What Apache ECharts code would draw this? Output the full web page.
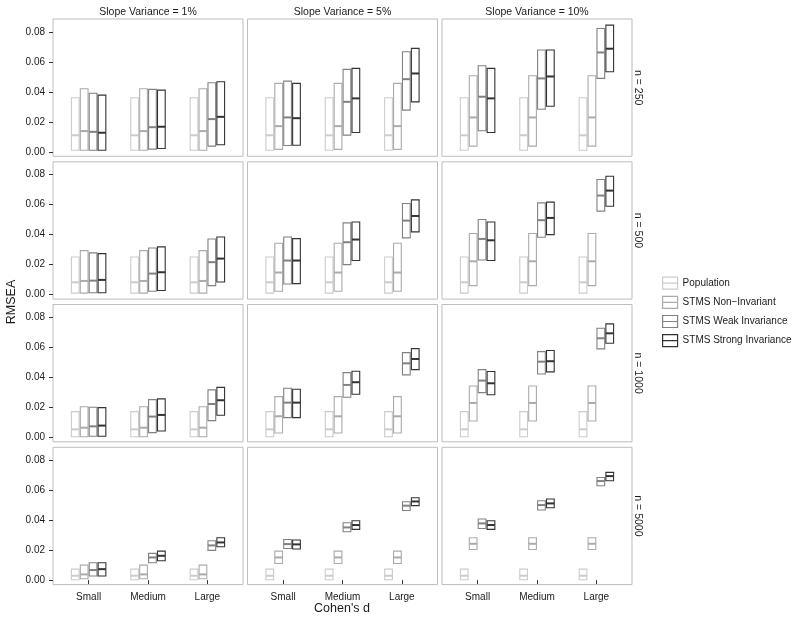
<!DOCTYPE html>
<html>
<head>
<meta charset="utf-8">
<script src="https://cdn.jsdelivr.net/npm/echarts@6/dist/echarts.min.js"></script>
<style>html,body{margin:0;padding:0;background:#fff}#chart{width:800px;height:622px}</style>
</head>
<body>
<div id="chart"></div>
<script>
// ---------- data ----------
const categories = ['Small', 'Medium', 'Large'];
const groups = ['Population', 'STMS Non\u2212Invariant', 'STMS Weak Invariance', 'STMS Strong Invariance'];
const slopeLabels = ['Slope Variance = 1%', 'Slope Variance = 5%', 'Slope Variance = 10%'];
const sizeLabels = ['n = 250', 'n = 500', 'n = 1000', 'n = 5000'];
const yTicks = [0, 0.02, 0.04, 0.06, 0.08];

// each panel: [group][category] = [low, median, high]
const n250_sv1 = [
  [[0.001, 0.011, 0.036], [0.001, 0.011, 0.036], [0.001, 0.011, 0.036]],
  [[0.001, 0.0138, 0.042], [0.001, 0.0138, 0.042], [0.001, 0.0138, 0.042]],
  [[0.001, 0.0133, 0.039], [0.0018, 0.0164, 0.0416], [0.0038, 0.0218, 0.046]],
  [[0.001, 0.0127, 0.0378], [0.0022, 0.0167, 0.0411], [0.0047, 0.0233, 0.0467]]
];
const n250_sv5 = [
  [[0.001, 0.011, 0.036], [0.001, 0.011, 0.036], [0.001, 0.011, 0.036]],
  [[0.0016, 0.0171, 0.0456], [0.0016, 0.0171, 0.0456], [0.0016, 0.0171, 0.0456]],
  [[0.0042, 0.0229, 0.0471], [0.0111, 0.0333, 0.0549], [0.0278, 0.0484, 0.0667]],
  [[0.0044, 0.0224, 0.0456], [0.0129, 0.0356, 0.0556], [0.0333, 0.0522, 0.0689]]
];
const n250_sv10 = [
  [[0.001, 0.011, 0.036], [0.001, 0.011, 0.036], [0.001, 0.011, 0.036]],
  [[0.0038, 0.0229, 0.0507], [0.0038, 0.0229, 0.0507], [0.0038, 0.0229, 0.0507]],
  [[0.014, 0.0367, 0.0573], [0.0284, 0.0489, 0.0678], [0.0489, 0.0662, 0.0822]],
  [[0.0129, 0.0356, 0.0556], [0.0304, 0.0502, 0.0678], [0.0533, 0.0687, 0.0844]]
];
const n500_sv1 = [
  [[0.001, 0.0082, 0.0251], [0.001, 0.0082, 0.0251], [0.001, 0.0082, 0.0251]],
  [[0.001, 0.0091, 0.0293], [0.001, 0.0091, 0.0293], [0.001, 0.0091, 0.0293]],
  [[0.0012, 0.0093, 0.0278], [0.0022, 0.014, 0.0311], [0.006, 0.0216, 0.0371]],
  [[0.0012, 0.0098, 0.0273], [0.0027, 0.0149, 0.0318], [0.0084, 0.024, 0.0384]]
];
const n500_sv5 = [
  [[0.001, 0.0082, 0.0251], [0.001, 0.0082, 0.0251], [0.001, 0.0082, 0.0251]],
  [[0.0022, 0.0147, 0.0342], [0.0022, 0.0147, 0.0342], [0.0022, 0.0147, 0.0342]],
  [[0.0071, 0.0227, 0.0384], [0.02, 0.0349, 0.0478], [0.0378, 0.0493, 0.0607]],
  [[0.0073, 0.0227, 0.0373], [0.0227, 0.0367, 0.0484], [0.0418, 0.0524, 0.0631]]
];
const n500_sv10 = [
  [[0.001, 0.0082, 0.0251], [0.001, 0.0082, 0.0251], [0.001, 0.0082, 0.0251]],
  [[0.006, 0.0222, 0.0407], [0.006, 0.0222, 0.0407], [0.006, 0.0222, 0.0407]],
  [[0.0231, 0.0371, 0.05], [0.0382, 0.0496, 0.0611], [0.0556, 0.066, 0.0767]],
  [[0.0227, 0.0362, 0.0484], [0.04, 0.0511, 0.0616], [0.0589, 0.0693, 0.0789]]
];
const n1000_sv1 = [
  [[0.0004, 0.0053, 0.0171], [0.0004, 0.0053, 0.0171], [0.0004, 0.0053, 0.0171]],
  [[0.0004, 0.0064, 0.0204], [0.0004, 0.0064, 0.0204], [0.0004, 0.0064, 0.0204]],
  [[0.0007, 0.0073, 0.02], [0.0031, 0.0138, 0.0251], [0.0111, 0.0222, 0.0316]],
  [[0.0007, 0.0078, 0.0198], [0.0042, 0.0149, 0.0256], [0.0147, 0.0247, 0.0333]]
];
const n1000_sv5 = [
  [[0.0004, 0.0053, 0.0171], [0.0004, 0.0053, 0.0171], [0.0004, 0.0053, 0.0171]],
  [[0.0029, 0.014, 0.0271], [0.0029, 0.014, 0.0271], [0.0029, 0.014, 0.0271]],
  [[0.0131, 0.0231, 0.0327], [0.0267, 0.0349, 0.0431], [0.0416, 0.0493, 0.0564]],
  [[0.0131, 0.0231, 0.032], [0.0287, 0.0367, 0.044], [0.0451, 0.0522, 0.0591]]
];
const n1000_sv10 = [
  [[0.0004, 0.0053, 0.0171], [0.0004, 0.0053, 0.0171], [0.0004, 0.0053, 0.0171]],
  [[0.0109, 0.0229, 0.0342], [0.0109, 0.0229, 0.0342], [0.0109, 0.0229, 0.0342]],
  [[0.0298, 0.0378, 0.0451], [0.0422, 0.0504, 0.0571], [0.0589, 0.066, 0.0727]],
  [[0.0284, 0.036, 0.0438], [0.0436, 0.0507, 0.0578], [0.0627, 0.0693, 0.0756]]
];
const n5000_sv1 = [
  [[0.0002, 0.0029, 0.0073], [0.0002, 0.0029, 0.0073], [0.0002, 0.0029, 0.0073]],
  [[0.0009, 0.0038, 0.01], [0.0009, 0.0038, 0.01], [0.0009, 0.0038, 0.01]],
  [[0.0027, 0.0067, 0.0116], [0.0116, 0.0151, 0.0178], [0.0198, 0.0231, 0.0262]],
  [[0.0027, 0.0073, 0.0116], [0.0129, 0.0162, 0.0193], [0.0222, 0.0251, 0.0282]]
];
const n5000_sv5 = [
  [[0.0002, 0.0029, 0.0073], [0.0002, 0.0029, 0.0073], [0.0002, 0.0029, 0.0073]],
  [[0.0111, 0.0151, 0.0193], [0.0111, 0.0151, 0.0193], [0.0111, 0.0151, 0.0193]],
  [[0.0211, 0.024, 0.0271], [0.0322, 0.0351, 0.0382], [0.0464, 0.0496, 0.0522]],
  [[0.0207, 0.0238, 0.0267], [0.0338, 0.0367, 0.0396], [0.0496, 0.0524, 0.0549]]
];
const n5000_sv10 = [
  [[0.0002, 0.0029, 0.0073], [0.0002, 0.0029, 0.0073], [0.0002, 0.0029, 0.0073]],
  [[0.0204, 0.0242, 0.0282], [0.0204, 0.0242, 0.0282], [0.0204, 0.0242, 0.0282]],
  [[0.0344, 0.0378, 0.0407], [0.0467, 0.05, 0.0529], [0.0629, 0.066, 0.0684]],
  [[0.0338, 0.0367, 0.0396], [0.0482, 0.0511, 0.054], [0.0662, 0.0693, 0.0718]]
];
const panels = [
  [n250_sv1, n250_sv5, n250_sv10],
  [n500_sv1, n500_sv5, n500_sv10],
  [n1000_sv1, n1000_sv5, n1000_sv10],
  [n5000_sv1, n5000_sv5, n5000_sv10]
];

// ---------- style / layout ----------
const groupColors = ['#cccccc', '#ababab', '#818181', '#333333'];
const FONT = '"Liberation Sans", Arial, Helvetica, sans-serif';
const TXT = '#1a1a1a';
const colLeft = [53, 247.5, 442];
const rowTop = [19, 161.8, 304.5, 447.3];
const PW = 190, PH = 137.3;
const DODGE = 0.15, BOX_W = 0.13;

function makeRender(color) {
  return function (params, api) {
    const x = api.value(0), lo = api.value(1), mid = api.value(2), hi = api.value(3);
    const hw = api.size([BOX_W, 0])[0] / 2;
    const pT = api.coord([x, hi]), pB = api.coord([x, lo]), pM = api.coord([x, mid]);
    return {
      type: 'group',
      children: [
        { type: 'rect', shape: { x: pT[0] - hw, y: pT[1], width: 2 * hw, height: pB[1] - pT[1] },
          style: { fill: 'rgba(0,0,0,0)', stroke: color, lineWidth: 1.1 } },
        { type: 'line', shape: { x1: pT[0] - hw, y1: pM[1], x2: pT[0] + hw, y2: pM[1] },
          style: { stroke: color, lineWidth: 2 } }
      ]
    };
  };
}

const grid = [], xAxis = [], yAxis = [], series = [];
for (let r = 0; r < 4; r++) {
  for (let c = 0; c < 3; c++) {
    const gi = r * 3 + c;
    grid.push({ left: colLeft[c], top: rowTop[r], width: PW, height: PH, show: true,
      borderColor: '#bdbdbd', borderWidth: 1, backgroundColor: '#fff', containLabel: false });
    const bottom = r === 3, left = c === 0;
    xAxis.push({ type: 'value', gridIndex: gi, min: 0.4, max: 3.6,
      axisLine: { show: false }, splitLine: { show: false },
      axisTick: { show: bottom, customValues: [1, 2, 3], length: 4, lineStyle: { color: '#333' } },
      axisLabel: { show: bottom, customValues: [1, 2, 3], margin: 8, fontSize: 10, fontFamily: FONT, color: TXT,
        formatter: v => categories[Math.round(v) - 1] || '' } });
    yAxis.push({ type: 'value', gridIndex: gi, min: -0.003, max: 0.0885,
      axisLine: { show: false }, splitLine: { show: false },
      axisTick: { show: left, customValues: yTicks, length: 4, lineStyle: { color: '#333' } },
      axisLabel: { show: left, customValues: yTicks, margin: 8, fontSize: 10, fontFamily: FONT, color: TXT,
        formatter: v => v.toFixed(2) } });
    const panel = panels[r][c];
    for (let g = 0; g < 4; g++) {
      const data = panel[g].map((d, k) => [k + 1 + (g - 1.5) * DODGE, d[0], d[1], d[2]]);
      series.push({ type: 'custom', name: groups[g], xAxisIndex: gi, yAxisIndex: gi,
        renderItem: makeRender(groupColors[g]), data: data,
        encode: { x: 0, y: [1, 2, 3] },
        itemStyle: { color: '#fff', borderColor: groupColors[g], borderWidth: 1 },
        silent: true });
    }
  }
}

const graphic = [];
slopeLabels.forEach((t, c) => graphic.push({ type: 'text', x: colLeft[c] + PW / 2, y: 12.5,
  style: { text: t, font: '10.5px ' + FONT, fill: TXT, align: 'center', verticalAlign: 'middle',
    textAlign: 'center', textVerticalAlign: 'middle' } }));
sizeLabels.forEach((t, r) => graphic.push({ type: 'text', x: 637.5, y: rowTop[r] + PH / 2, rotation: -Math.PI / 2,
  style: { text: t, font: '10.5px ' + FONT, fill: TXT, align: 'center', verticalAlign: 'middle',
    textAlign: 'center', textVerticalAlign: 'middle' } }));
graphic.push({ type: 'text', x: 12, y: 302, rotation: Math.PI / 2,
  style: { text: 'RMSEA', font: '12.5px ' + FONT, fill: TXT, align: 'center', verticalAlign: 'middle',
    textAlign: 'center', textVerticalAlign: 'middle' } });
graphic.push({ type: 'text', x: 342, y: 609, 
  style: { text: "Cohen's d", font: '12.5px ' + FONT, fill: TXT, align: 'center', verticalAlign: 'middle',
    textAlign: 'center', textVerticalAlign: 'middle' } });

const legend = {
  orient: 'vertical', left: 662, top: 276.5, padding: 0, itemWidth: 15, itemHeight: 12, itemGap: 6,
  textStyle: { fontSize: 10, fontFamily: FONT, color: TXT },
  selectedMode: false,
  data: groups.map((g, i) => ({ name: g, icon: 'path://M0,0L15,0L15,12L0,12ZM0,6L15,6',
    itemStyle: { color: '#fff', borderColor: groupColors[i], borderWidth: 1.2 } }))
};

const chart = echarts.init(document.getElementById('chart'), null, { renderer: 'canvas' });
chart.setOption({ animation: false, backgroundColor: '#fff', grid, xAxis, yAxis, series, graphic, legend });
</script>
</body>
</html>
